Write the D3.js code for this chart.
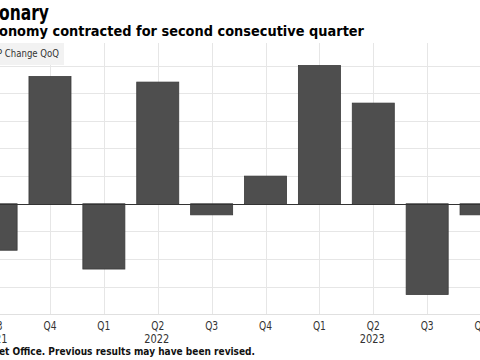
<!DOCTYPE html>
<html>
<head>
<meta charset="utf-8">
<script src="https://cdn.jsdelivr.net/npm/d3@7"></script>
<style>
  html, body { margin: 0; padding: 0; background: #fff; }
  svg { display: block; font-family: "DejaVu Sans", Verdana, sans-serif; }
</style>
</head>
<body>
<div id="chart"></div>
<script>
// quarters shown (the picture is cropped on both sides)
const quarters = ["2021Q3", "2021Q4", "2022Q1", "2022Q2", "2022Q3", "2022Q4", "2023Q1", "2023Q2", "2023Q3", "2023Q4"];
const quarterLabels = ["Q3", "Q4", "Q1", "Q2", "Q3", "Q4", "Q1", "Q2", "Q3", "Q4"];
// GDP change QoQ, %
const gdpChange = [-0.42, 1.15, -0.59, 1.10, -0.10, 0.25, 1.25, 0.91, -0.82, -0.10];
const yearLabels = ["2021", "2022", "2023"];
const yearAt = ["2021Q3", "2022Q2", "2023Q2"];
const yTicks = [-1, -0.75, -0.5, -0.25, 0, 0.25, 0.5, 0.75, 1, 1.25];

const width = 480, height = 360;
const plotTop = 43, plotBottom = 314;

const svg = d3.select('#chart')
    .append('svg')
    .attr('width', width)
    .attr('height', height);

const x = d3.scaleBand()
    .domain(quarters)
    .range([-30.85, 508])
    .paddingInner(0.22)
    .paddingOuter(0.11);

const y = d3.scaleLinear()
    .domain([-1, 1.4534])
    .range([314.4, plotTop]);

// horizontal grid
svg.append('g')
    .selectAll('line')
    .data(yTicks)
    .join('line')
    .attr('x1', 0)
    .attr('x2', width)
    .attr('y1', d => Math.round(y(d)) + 0.5)
    .attr('y2', d => Math.round(y(d)) + 0.5)
    .attr('stroke', '#e6e6e6')
    .attr('stroke-width', 1);

// vertical grid at bar centres
svg.append('g')
    .selectAll('line')
    .data(quarters)
    .join('line')
    .attr('x1', d => Math.round(x(d) + x.bandwidth() / 2) + 0.5)
    .attr('x2', d => Math.round(x(d) + x.bandwidth() / 2) + 0.5)
    .attr('y1', plotTop)
    .attr('y2', plotBottom)
    .attr('stroke', '#e6e6e6')
    .attr('stroke-width', 1);

// legend box
const legend = svg.append('g');
legend.append('rect')
    .attr('x', 0)
    .attr('y', 43)
    .attr('width', 64)
    .attr('height', 22)
    .attr('fill', '#f2f2f2');
legend.append('text')
    .attr('x', -3)
    .attr('y', 57)
    .attr('font-size', 11)
    .attr('fill', '#333')
    .attr('textLength', 62)
    .attr('lengthAdjust', 'spacingAndGlyphs')
    .text('P Change QoQ');

// bars
const data = quarters.map((q, i) => ({ q, v: gdpChange[i] }));
svg.append('g')
    .selectAll('rect')
    .data(data)
    .join('rect')
    .attr('x', d => x(d.q))
    .attr('y', d => y(Math.max(0, d.v)))
    .attr('width', x.bandwidth())
    .attr('height', d => Math.abs(y(d.v) - y(0)))
    .attr('fill', '#4e4e4e')
    .attr('stroke', '#3a3a3a')
    .attr('stroke-width', 0.8);

// zero line
svg.append('line')
    .attr('x1', 0)
    .attr('x2', width)
    .attr('y1', Math.round(y(0)) + 0.5)
    .attr('y2', Math.round(y(0)) + 0.5)
    .attr('stroke', '#333')
    .attr('stroke-width', 1.2);

// x axis
const xAxis = svg.append('g')
    .attr('transform', `translate(0,${plotBottom})`)
    .call(d3.axisBottom(x)
        .tickFormat((d, i) => quarterLabels[i])
        .tickSize(0)
        .tickPadding(7));
xAxis.select('.domain').attr('stroke', '#e0e0e0');
xAxis.selectAll('text')
    .attr('font-size', 12)
    .attr('font-family', '"DejaVu Sans", Verdana, sans-serif')
    .attr('fill', '#333')
    .attr('textLength', 13)
    .attr('lengthAdjust', 'spacingAndGlyphs');

svg.append('g')
    .selectAll('text')
    .data(yearLabels)
    .join('text')
    .attr('x', (d, i) => x(yearAt[i]) + x.bandwidth() / 2 - 1)
    .attr('y', 343)
    .attr('text-anchor', 'middle')
    .attr('font-size', 12)
    .attr('fill', '#333')
    .attr('textLength', 25)
    .attr('lengthAdjust', 'spacingAndGlyphs')
    .text(d => d);

// titles
svg.append('text')
    .attr('x', -1)
    .attr('y', 20)
    .attr('font-size', 21)
    .attr('font-weight', 'bold')
    .attr('fill', '#000')
    .attr('textLength', 50)
    .attr('lengthAdjust', 'spacingAndGlyphs')
    .text('onary');

svg.append('text')
    .attr('x', -1)
    .attr('y', 36)
    .attr('font-size', 14)
    .attr('font-weight', 'bold')
    .attr('fill', '#000')
    .attr('textLength', 365)
    .attr('lengthAdjust', 'spacingAndGlyphs')
    .text('onomy contracted for second consecutive quarter');

// footnote
svg.append('text')
    .attr('x', -1)
    .attr('y', 355)
    .attr('font-size', 11)
    .attr('font-weight', 'bold')
    .attr('fill', '#111')
    .attr('textLength', 256)
    .attr('lengthAdjust', 'spacingAndGlyphs')
    .text('et Office. Previous results may have been revised.');
</script>
</body>
</html>
